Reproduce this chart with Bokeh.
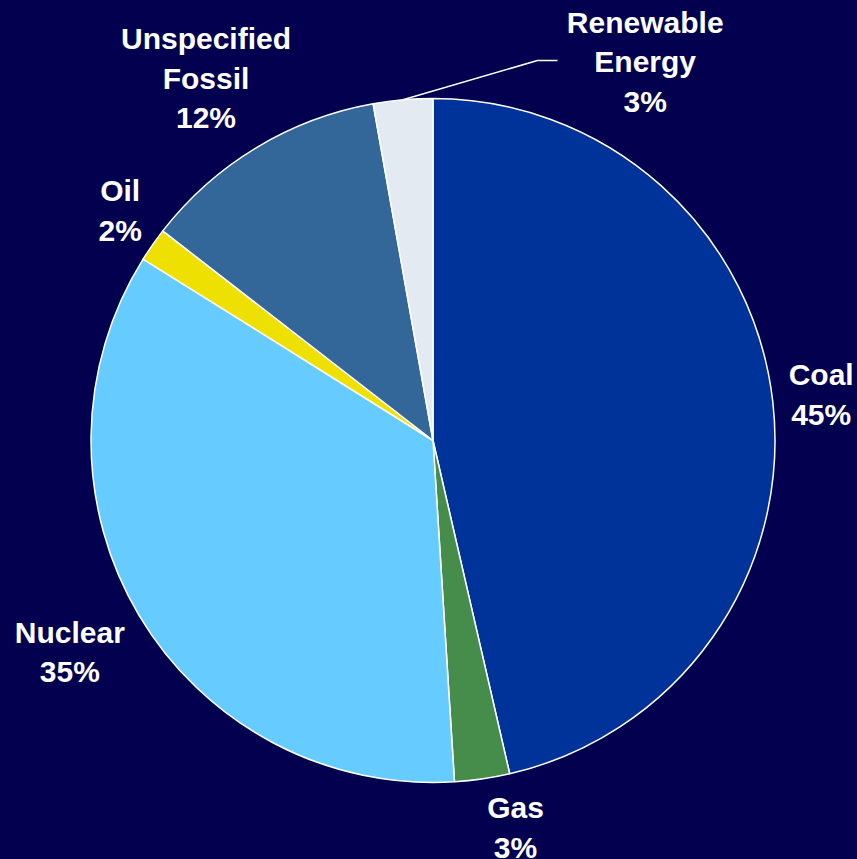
import math
from bokeh.plotting import figure
from bokeh.models import Range1d, ColumnDataSource
from bokeh.core.properties import value
from bokeh.embed import file_html
from bokeh.resources import INLINE

# ---- data ----
categories = ["Coal", "Gas", "Nuclear", "Oil", "Unspecified Fossil", "Renewable Energy"]
shares = [46.4, 2.6, 34.9, 1.6, 11.7, 2.8]
label_texts = ["Coal\n45%", "Gas\n3%", "Nuclear\n35%", "Oil\n2%",
               "Unspecified\nFossil\n12%", "Renewable\nEnergy\n3%"]
colors = ["#003399", "#468c4a", "#66ccff", "#eee000", "#336699", "#e4eaf1"]

# ---- layout ----
W, H = 857, 859
BG = "#02004f"
cx, cy, R = 432.5, 419.0, 342.0
# label anchors: (center x, first-line baseline measured from top)
label_pos = [(820.7, 374.3), (515.0, 807.0), (69.3, 631.7), (119.7, 190.0),
             (205.5, 38.3), (644.7, 21.7)]
line_gap = 39.5
leader_elbow = (537.0, 60.0)
leader_end = (557.0, 60.0)

total = float(sum(shares))
starts, ends, mids = [], [], []
cum = 0.0
for s in shares:
    a0 = math.pi / 2 - 2 * math.pi * cum / total
    cum += s
    a1 = math.pi / 2 - 2 * math.pi * cum / total
    starts.append(a0)
    ends.append(a1)
    mids.append((a0 + a1) / 2)

p = figure(width=W, height=H, x_range=Range1d(0, W), y_range=Range1d(0, H),
           min_border=0, toolbar_location=None, output_backend="svg",
           background_fill_color=BG, border_fill_color=BG, outline_line_color=None,
           x_axis_location=None, y_axis_location=None)
p.grid.visible = False

src = ColumnDataSource(dict(cat=categories, share=shares, start=starts, end=ends, color=colors))
p.wedge(x=cx, y=cy, radius=R, start_angle="start", end_angle="end", direction="clock",
        fill_color="color", line_color="white", line_width=1.5, source=src)

# labels
tx, ty, tt = [], [], []
for (lx, ly), lab in zip(label_pos, label_texts):
    for i, line in enumerate(lab.split("\n")):
        tx.append(lx)
        ty.append(H - (ly + i * line_gap))
        tt.append(line)
p.text(x=tx, y=ty, text=tt, text_font=value("Liberation Sans"), text_font_style="bold",
       text_font_size="30px", text_color="white", text_align="center",
       text_baseline="alphabetic")

# leader line for Renewable Energy
m = mids[5]
sx, sy = cx + R * math.cos(m), cy + R * math.sin(m)
p.line(x=[sx, leader_elbow[0], leader_end[0]],
       y=[sy, H - leader_elbow[1], H - leader_end[1]],
       line_color="white", line_width=1.5)

html = file_html(p, INLINE, title="Energy mix")
html = html.replace("<head>", "<head><style>html,body{background:%s;overflow:hidden;}</style>" % BG, 1)
open("out.html", "w").write(html)
